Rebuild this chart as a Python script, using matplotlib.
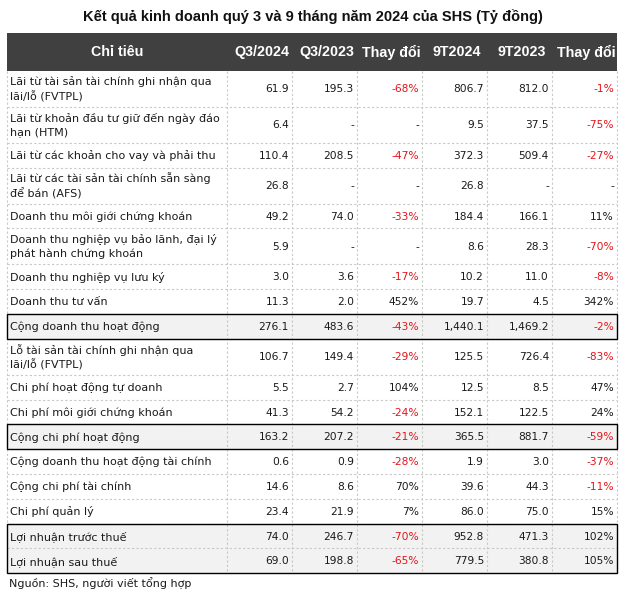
import matplotlib.pyplot as plt
from matplotlib.patches import Rectangle

# data
title = "Kết quả kinh doanh quý 3 và 9 tháng năm 2024 của SHS (Tỷ đồng)"
headers = ["Chỉ tiêu", "Q3/2024", "Q3/2023", "Thay đổi", "9T2024", "9T2023", "Thay đổi"]
labels = [
    "Lãi từ tài sản tài chính ghi nhận qua\nlãi/lỗ (FVTPL)",
    "Lãi từ khoản đầu tư giữ đến ngày đáo\nhạn (HTM)",
    "Lãi từ các khoản cho vay và phải thu",
    "Lãi từ các tài sản tài chính sẵn sàng\nđể bán (AFS)",
    "Doanh thu môi giới chứng khoán",
    "Doanh thu nghiệp vụ bảo lãnh, đại lý\nphát hành chứng khoán",
    "Doanh thu nghiệp vụ lưu ký",
    "Doanh thu tư vấn",
    "Cộng doanh thu hoạt động",
    "Lỗ tài sản tài chính ghi nhận qua\nlãi/lỗ (FVTPL)",
    "Chi phí hoạt động tự doanh",
    "Chi phí môi giới chứng khoán",
    "Cộng chi phí hoạt động",
    "Cộng doanh thu hoạt động tài chính",
    "Cộng chi phí tài chính",
    "Chi phí quản lý",
    "Lợi nhuận trước thuế",
    "Lợi nhuận sau thuế",
]
q3_2024 = [61.9, 6.4, 110.4, 26.8, 49.2, 5.9, 3.0, 11.3, 276.1, 106.7, 5.5, 41.3, 163.2, 0.6, 14.6, 23.4, 74.0, 69.0]
q3_2023 = [195.3, None, 208.5, None, 74.0, None, 3.6, 2.0, 483.6, 149.4, 2.7, 54.2, 207.2, 0.9, 8.6, 21.9, 246.7, 198.8]
chg_q3 = [-68, None, -47, None, -33, None, -17, 452, -43, -29, 104, -24, -21, -28, 70, 7, -70, -65]
t9_2024 = [806.7, 9.5, 372.3, 26.8, 184.4, 8.6, 10.2, 19.7, 1440.1, 125.5, 12.5, 152.1, 365.5, 1.9, 39.6, 86.0, 952.8, 779.5]
t9_2023 = [812.0, 37.5, 509.4, None, 166.1, 28.3, 11.0, 4.5, 1469.2, 726.4, 8.5, 122.5, 881.7, 3.0, 44.3, 75.0, 471.3, 380.8]
chg_9t = [-1, -75, -27, None, 11, -70, -8, 342, -2, -83, 47, 24, -59, -37, -11, 15, 102, 105]
boxed = [(8, 8), (12, 12), (16, 17)]  # row ranges with a border
source = "Nguồn: SHS, người viết tổng hợp"

# layout (pixels)
W, H = 625, 597
col_edges = [7, 227, 292, 357, 422, 487, 552, 617]
head_top, head_bot = 33, 70.8
h1, h2 = 24.8, 36.0
body_font = "DejaVu Sans"
bold_font = "Liberation Sans"
fs_lab = 8.0
fs_num = 7.7
red = "#e3141b"
grid_c = "#c8c8c8"

fig = plt.figure(figsize=(W / 100, H / 100), dpi=100)
ax = fig.add_axes([0, 0, 1, 1])
ax.set_xlim(0, W)
ax.set_ylim(H, 0)
ax.axis("off")

ax.text(W / 2, 17, title, ha="center", va="center", fontsize=10.5,
        fontweight="bold", family=bold_font, color="#111111")

# header band
ax.add_patch(Rectangle((col_edges[0], head_top), col_edges[-1] - col_edges[0],
                       head_bot - head_top, facecolor="#404040", edgecolor="none"))
for j, h in enumerate(headers):
    xc = (col_edges[j] + col_edges[j + 1]) / 2 + (2 if j else 0)
    ax.text(xc, (head_top + head_bot) / 2 + 0.5, h, ha="center", va="center",
            fontsize=10.3, fontweight="bold", family=bold_font, color="white")

# row positions
tops = []
y = head_bot
for lab in labels:
    tops.append(y)
    y += h2 if "\n" in lab else h1
tops.append(y)
bottom = y

# fills for boxed rows
for a, b in boxed:
    ax.add_patch(Rectangle((col_edges[0], tops[a]), col_edges[-1] - col_edges[0],
                           tops[b + 1] - tops[a], facecolor="#f2f2f2",
                           edgecolor="none", zorder=1))

# dashed grid
for yy in tops[1:-1]:
    ax.plot([col_edges[0], col_edges[-1]], [yy, yy], color=grid_c, lw=0.8,
            ls=(0, (2, 2)), zorder=2)
for xx in col_edges:
    ax.plot([xx, xx], [head_bot, bottom], color=grid_c, lw=0.8,
            ls=(0, (2, 2)), zorder=2)

# borders for boxed rows
for a, b in boxed:
    ax.add_patch(Rectangle((col_edges[0], tops[a]), col_edges[-1] - col_edges[0],
                           tops[b + 1] - tops[a], facecolor="none",
                           edgecolor="black", lw=1.0, zorder=4))


def fmt_num(v):
    return "-" if v is None else f"{v:,.1f}"


def fmt_pct(v):
    return "-" if v is None else f"{v}%"


for i, lab in enumerate(labels):
    yc = (tops[i] + tops[i + 1]) / 2
    ax.text(col_edges[0] + 3, yc + 0.5, lab, ha="left", va="center",
            fontsize=fs_lab, family=body_font, color="#1a1a1a", linespacing=1.4,
            zorder=5)
    cells = [fmt_num(q3_2024[i]), fmt_num(q3_2023[i]), fmt_pct(chg_q3[i]),
             fmt_num(t9_2024[i]), fmt_num(t9_2023[i]), fmt_pct(chg_9t[i])]
    pcts = [None, None, chg_q3[i], None, None, chg_9t[i]]
    for j, (s, p) in enumerate(zip(cells, pcts)):
        c = red if (p is not None and p < 0) else "#1a1a1a"
        ax.text(col_edges[j + 2] - 3, yc + 0.5, s, ha="right", va="center",
                fontsize=fs_num, family=body_font, color=c, zorder=5)

ax.text(col_edges[0] + 2, bottom + 10, source, ha="left", va="center",
        fontsize=fs_lab, family=body_font, color="#1a1a1a")

fig.savefig("out.png", dpi=100)
